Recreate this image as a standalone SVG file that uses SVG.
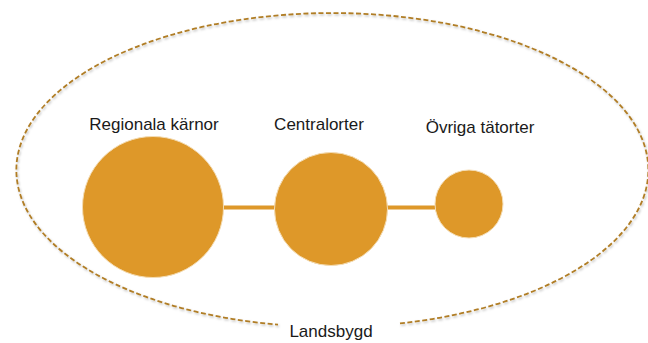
<svg xmlns="http://www.w3.org/2000/svg" width="648" height="343" viewBox="0 0 648 343">
  <style>
    .node { fill: #DE9829; stroke: #F4DDB5; stroke-width: 1; }
    .link { stroke: #DE9829; stroke-width: 4; fill: none; }
    .label { font-family: "Liberation Sans", Arial, sans-serif; font-size: 17px; fill: #1a1a1a; text-anchor: middle; }
    .boundary { fill: none; stroke: #B07D25; stroke-width: 1.8; stroke-dasharray: 5 2.5; }
  </style>
  <defs>
    <filter id="shadow" x="-5%" y="-5%" width="110%" height="115%">
      <feDropShadow dx="1" dy="1.5" stdDeviation="1.2" flood-color="#000" flood-opacity="0.25"/>
    </filter>
  </defs>
  <rect width="648" height="343" fill="#fff"/>
  <g id="landsbygd">
    <path class="boundary" filter="url(#shadow)" d="M 400 323.4 A 316 157 0 1 0 278 324.7"/>
    <text class="label" x="331" y="337">Landsbygd</text>
  </g>
  <g id="connectors">
    <line class="link" x1="222" y1="207.5" x2="277" y2="207.5"/>
    <line class="link" x1="386" y1="207.5" x2="437" y2="207.5"/>
  </g>
  <g id="regionala">
    <circle class="node" cx="153" cy="207" r="70.5"/>
    <text class="label" x="154" y="130">Regionala kärnor</text>
  </g>
  <g id="centralorter">
    <circle class="node" cx="331" cy="209" r="56.5"/>
    <text class="label" x="319" y="130">Centralorter</text>
  </g>
  <g id="ovriga">
    <circle class="node" cx="469" cy="204" r="34"/>
    <text class="label" x="480" y="133">Övriga tätorter</text>
  </g>
</svg>
